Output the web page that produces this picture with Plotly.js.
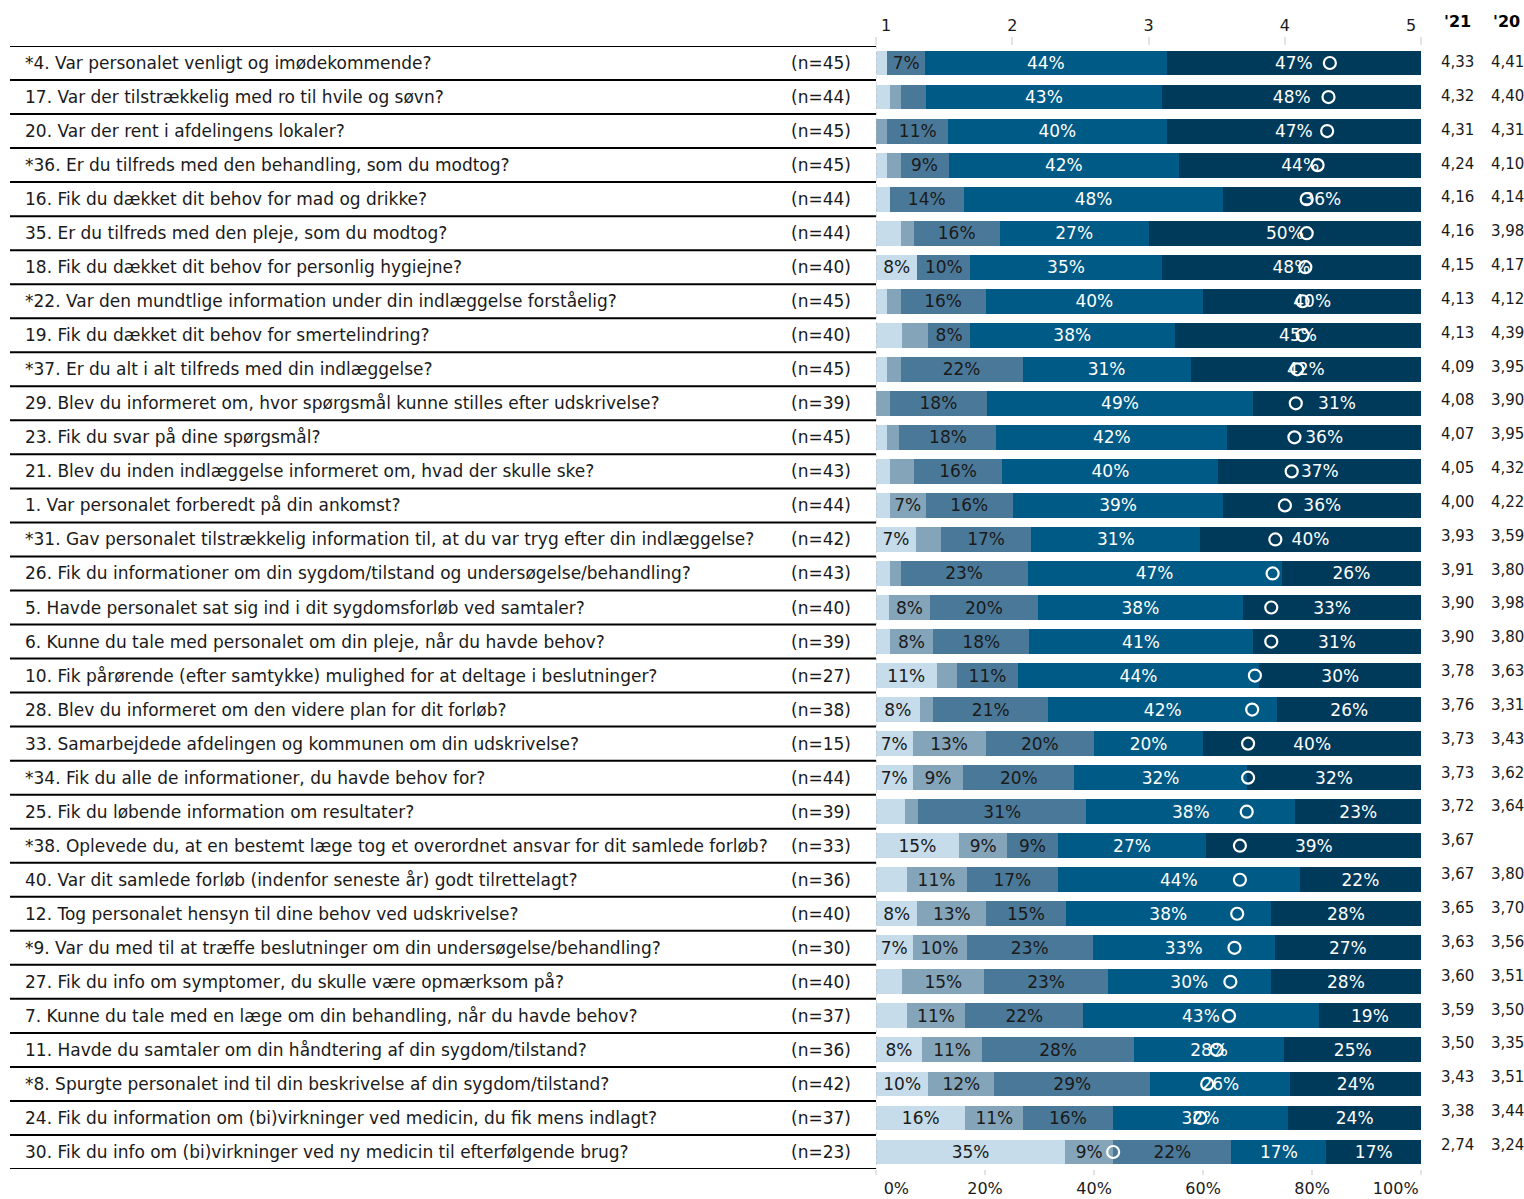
<!DOCTYPE html>
<html>
<head>
<meta charset="utf-8">
<script src="https://cdn.plot.ly/plotly-3.0.1.min.js"></script>
<style>html,body{margin:0;padding:0;background:#fff;}#chart{width:1524px;height:1199px;}</style>
</head>
<body>
<div id="chart"></div>
<script>
const questions = [
  "*4. Var personalet venligt og imødekommende?",
  "17. Var der tilstrækkelig med ro til hvile og søvn?",
  "20. Var der rent i afdelingens lokaler?",
  "*36. Er du tilfreds med den behandling, som du modtog?",
  "16. Fik du dækket dit behov for mad og drikke?",
  "35. Er du tilfreds med den pleje, som du modtog?",
  "18. Fik du dækket dit behov for personlig hygiejne?",
  "*22. Var den mundtlige information under din indlæggelse forståelig?",
  "19. Fik du dækket dit behov for smertelindring?",
  "*37. Er du alt i alt tilfreds med din indlæggelse?",
  "29. Blev du informeret om, hvor spørgsmål kunne stilles efter udskrivelse?",
  "23. Fik du svar på dine spørgsmål?",
  "21. Blev du inden indlæggelse informeret om, hvad der skulle ske?",
  "1. Var personalet forberedt på din ankomst?",
  "*31. Gav personalet tilstrækkelig information til, at du var tryg efter din indlæggelse?",
  "26. Fik du informationer om din sygdom/tilstand og undersøgelse/behandling?",
  "5. Havde personalet sat sig ind i dit sygdomsforløb ved samtaler?",
  "6. Kunne du tale med personalet om din pleje, når du havde behov?",
  "10. Fik pårørende (efter samtykke) mulighed for at deltage i beslutninger?",
  "28. Blev du informeret om den videre plan for dit forløb?",
  "33. Samarbejdede afdelingen og kommunen om din udskrivelse?",
  "*34. Fik du alle de informationer, du havde behov for?",
  "25. Fik du løbende information om resultater?",
  "*38. Oplevede du, at en bestemt læge tog et overordnet ansvar for dit samlede forløb?",
  "40. Var dit samlede forløb (indenfor seneste år) godt tilrettelagt?",
  "12. Tog personalet hensyn til dine behov ved udskrivelse?",
  "*9. Var du med til at træffe beslutninger om din undersøgelse/behandling?",
  "27. Fik du info om symptomer, du skulle være opmærksom på?",
  "7. Kunne du tale med en læge om din behandling, når du havde behov?",
  "11. Havde du samtaler om din håndtering af din sygdom/tilstand?",
  "*8. Spurgte personalet ind til din beskrivelse af din sygdom/tilstand?",
  "24. Fik du information om (bi)virkninger ved medicin, du fik mens indlagt?",
  "30. Fik du info om (bi)virkninger ved ny medicin til efterfølgende brug?"
];
const nValues = [45,44,45,45,44,44,40,45,40,45,39,45,43,44,42,43,40,39,27,38,15,44,39,33,36,40,30,40,37,36,42,37,23];
const mean21 = [4.33,4.32,4.31,4.24,4.16,4.16,4.15,4.13,4.13,4.09,4.08,4.07,4.05,4.00,3.93,3.91,3.90,3.90,3.78,3.76,3.73,3.73,3.72,3.67,3.67,3.65,3.63,3.60,3.59,3.50,3.43,3.38,2.74];
const mean20 = [4.41,4.40,4.31,4.10,4.14,3.98,4.17,4.12,4.39,3.95,3.90,3.95,4.32,4.22,3.59,3.80,3.98,3.80,3.63,3.31,3.43,3.62,3.64,null,3.80,3.70,3.56,3.51,3.50,3.35,3.51,3.44,3.24];
// answer shares (%), from lowest (1) to highest (5) answer category
const share1 = [2.1,2.5,0,2.1,2.5,4.5,7.6,2.1,4.8,2.1,0,2.1,2.5,2.5,7.3,2.5,2.4,2.5,11.1,8.0,6.7,6.7,5.3,15.2,5.6,7.6,6.7,4.8,5.6,8.4,9.6,16.4,34.7];
const share2 = [0,2.0,2.1,2.4,0,2.4,0,2.4,4.8,2.4,2.5,2.2,4.4,6.6,4.6,2.0,7.5,8.0,3.8,2.5,13.4,9.3,2.4,8.9,11.0,12.6,9.9,15.1,10.8,11.1,12.1,10.6,8.8];
const share3 = [6.9,4.6,11.1,8.8,13.6,15.8,9.7,15.6,7.6,22.4,17.9,17.8,16.3,16.0,16.6,23.3,19.8,17.6,11.1,21.1,19.9,20.4,30.9,9.2,16.8,14.6,23.2,22.6,21.6,27.8,28.6,16.4,21.7];
const share4 = [44.3,43.4,40.1,42.3,47.6,27.3,35.1,39.9,37.6,30.8,48.7,42.3,39.6,38.6,31.0,46.6,37.6,41.0,44.3,42.0,20.0,31.6,38.3,27.3,44.3,37.6,33.3,29.9,43.2,27.6,25.7,32.2,17.4];
const share5 = [46.7,47.5,46.7,44.4,36.3,50.0,47.6,40.0,45.2,42.3,30.9,35.6,37.2,36.3,40.4,25.6,32.7,30.9,29.7,26.4,40.0,32.0,23.1,39.4,22.3,27.6,26.9,27.6,18.8,25.1,24.0,24.4,17.4];
const topTicks = [1,2,3,4,5];
const topTickText = ['\u2007\u20071','2','3','4','5\u2007\u2007'];
const bottomTicks = [0,20,40,60,80,100];
const bottomTickText = ['\u2007\u2007\u2007\u20070%','20%','40%','60%','80%','100%\u2007\u2007\u2007\u2007\u2007'];
const yearHeaders = ["'21","'20"];

const FONT = "DejaVu Sans, Verdana, sans-serif";
const W = 1524, H = 1199;
const px = v => v / W;
const rows = questions.map((q,i)=>i);
const colors = ['#c6dcea','#84a4b9','#4a7898','#005a86','#003a5b'];
const txtColors = ['#1a1a1a','#1a1a1a','#1a1a1a','#ffffff','#ffffff'];
const shares = [share1,share2,share3,share4,share5];

const traces = shares.map((s,k)=>({
  type:'bar', orientation:'h', x:s, y:rows, xaxis:'x', yaxis:'y',
  marker:{color:colors[k], line:{width:0}},
  text:s.map(v=> Math.round(v)>=7 ? Math.round(v)+'%' : ''),
  textposition:'inside', insidetextanchor:'middle', textangle:0,
  textfont:{family:FONT, size:17, color:txtColors[k]},
  hoverinfo:'skip', cliponaxis:false
}));
traces.push({
  type:'scatter', mode:'markers', x:mean21, y:rows, xaxis:'x2', yaxis:'y',
  marker:{symbol:'circle-open', size:12, color:'#ffffff', line:{width:2.2, color:'#ffffff'}},
  hoverinfo:'skip'
});

const annotations = [];
const fmt = v => v==null ? '' : v.toFixed(2).replace('.', ',');
questions.forEach((q,i)=>{
  annotations.push({xref:'paper', yref:'y', x:px(23), y:i, text:q, showarrow:false, xanchor:'left', yanchor:'middle', font:{family:FONT, size:17, color:'#1a1a1a'}});
  annotations.push({xref:'paper', yref:'y', x:px(789), y:i, text:'(n='+nValues[i]+')', showarrow:false, xanchor:'left', yanchor:'middle', font:{family:FONT, size:17, color:'#1a1a1a'}});
  annotations.push({xref:'paper', yref:'y', x:px(1457), y:i, yshift:0.19*i+1, text:fmt(mean21[i]), showarrow:false, xanchor:'center', yanchor:'middle', font:{family:FONT, size:15, color:'#1a1a1a'}});
  annotations.push({xref:'paper', yref:'y', x:px(1507), y:i, yshift:0.19*i+1, text:fmt(mean20[i]), showarrow:false, xanchor:'center', yanchor:'middle', font:{family:FONT, size:15, color:'#1a1a1a'}});
});
annotations.push({xref:'paper', yref:'paper', x:px(1457), y:1-21/H, text:'<b>'+yearHeaders[0]+'</b>', showarrow:false, xanchor:'center', yanchor:'middle', font:{family:FONT, size:16, color:'#000'}});
annotations.push({xref:'paper', yref:'paper', x:px(1506), y:1-21/H, text:'<b>'+yearHeaders[1]+'</b>', showarrow:false, xanchor:'center', yanchor:'middle', font:{family:FONT, size:16, color:'#000'}});

const shapes = [];
for (let i=0;i<=questions.length;i++){
  shapes.push({type:'line', xref:'paper', yref:'y', x0:px(10), x1:px(876), y0:i-0.5, y1:i-0.5, line:{color:'#000', width:2}});
}
shapes.push({type:'line', xref:'x', yref:'y', x0:0, x1:0, y0:-0.5, y1:questions.length-0.5, line:{color:'#b5b5b5', width:1, dash:'dot'}});

const layout = {
  width:W, height:H, margin:{l:0,r:0,t:0,b:0},
  paper_bgcolor:'#fff', plot_bgcolor:'#fff',
  barmode:'stack', bargap:0.27, showlegend:false,
  uniformtext:{mode:'show', minsize:17},
  font:{family:FONT, color:'#1a1a1a'},
  xaxis:{domain:[px(876), px(1422)], range:[0,100.15], tickvals:bottomTicks, ticktext:bottomTickText,
    ticks:'outside', ticklen:5, tickcolor:'#e3e3e3', tickwidth:2, showgrid:false, zeroline:false, showline:false,
    tickfont:{family:FONT, size:16, color:'#1a1a1a'}, anchor:'y', fixedrange:true},
  xaxis2:{domain:[px(876), px(1422)], range:[1,5.006], overlaying:'x', side:'top', tickvals:topTicks, ticktext:topTickText,
    ticks:'outside', ticklen:8, tickcolor:'#e3e3e3', tickwidth:2, showgrid:false, zeroline:false, showline:false,
    tickfont:{family:FONT, size:16, color:'#1a1a1a'}, anchor:'y', fixedrange:true},
  yaxis:{domain:[(H-1169)/H, (H-46)/H], range:[questions.length-0.5, -0.5], showticklabels:false, showgrid:false,
    zeroline:false, showline:false, ticks:'', fixedrange:true},
  annotations, shapes
};
Plotly.newPlot('chart', traces, layout, {displayModeBar:false, staticPlot:true});
</script>
</body>
</html>
